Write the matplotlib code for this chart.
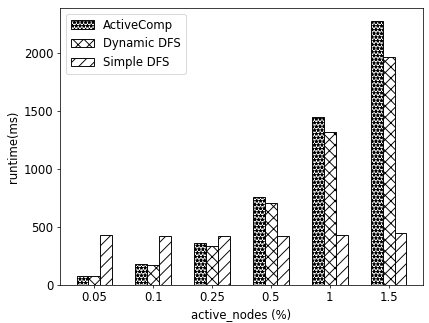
import numpy as np
import matplotlib
matplotlib.use("Agg")
import matplotlib.pyplot as plt

labels = ['0.05', '0.1', '0.25', '0.5', '1', '1.5']
active_comp = [78, 180, 360, 755, 1445, 2270]
dynamic_dfs = [75, 172, 335, 705, 1318, 1960]
simple_dfs = [428, 420, 420, 422, 432, 446]

x = np.arange(len(labels))
w = 0.2

# original seems drawn bigger and scaled down, so use a low dpi
dpi = 67
plt.rcParams['font.size'] = 12.5
fig, ax = plt.subplots(figsize=(429 / dpi, 323 / dpi), dpi=dpi)
ax.bar(x - w, active_comp, w, label='ActiveComp', color='white', edgecolor='black', hatch='***')
ax.bar(x, dynamic_dfs, w, label='Dynamic DFS', color='white', edgecolor='black', hatch='xx')
ax.bar(x + w, simple_dfs, w, label='Simple DFS', color='white', edgecolor='black', hatch='//')

ax.set_xticks(x)
ax.set_xticklabels(labels)
ax.set_xlabel('active_nodes (%)')
ax.set_ylabel('runtime(ms)')
ax.legend(loc='upper left')

plt.subplots_adjust(left=0.14, right=0.986, bottom=0.118, top=0.975)
plt.savefig("out.png", dpi=dpi)
